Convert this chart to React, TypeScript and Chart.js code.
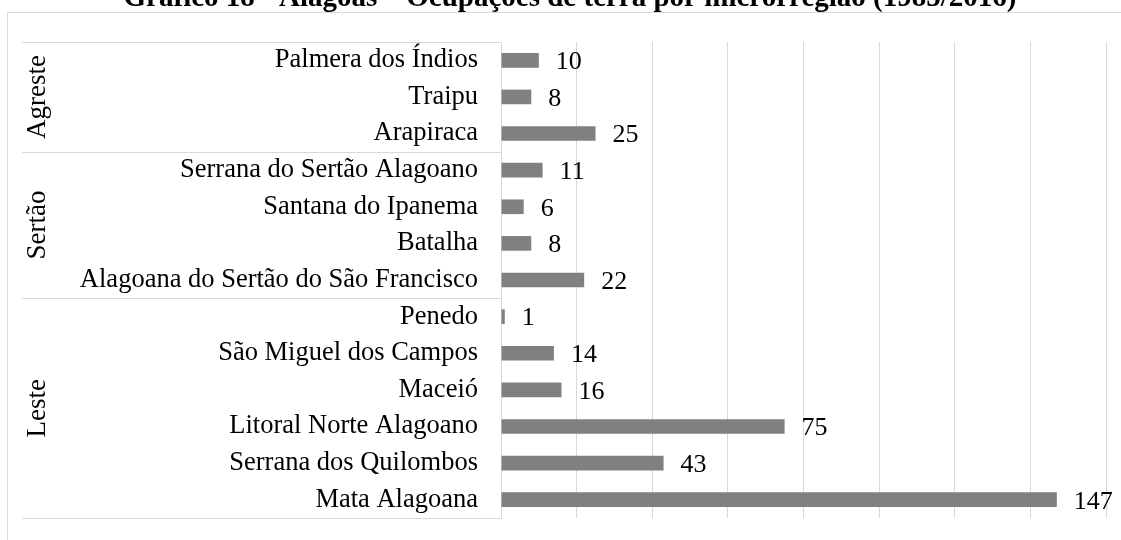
import React, { useEffect, useRef } from "react";
import { Chart, registerables } from "chart.js";

Chart.register(...registerables);

const categories = [
  "Palmera dos Índios",
  "Traipu",
  "Arapiraca",
  "Serrana do Sertão Alagoano",
  "Santana do Ipanema",
  "Batalha",
  "Alagoana do Sertão do São Francisco",
  "Penedo",
  "São Miguel dos Campos",
  "Maceió",
  "Litoral Norte Alagoano",
  "Serrana dos Quilombos",
  "Mata Alagoana",
];
const values = [10, 8, 25, 11, 6, 8, 22, 1, 14, 16, 75, 43, 147];
const groupNames = ["Agreste", "Sertão", "Leste"];
const groupSizes = [3, 4, 6];
const titleText = "Gráfico 18 - Alagoas – Ocupações de terra por microrregião (1985/2016)";

const FONT = "'Liberation Serif', 'Times New Roman', serif";
const LINE = "#d9d9d9";

export default function App() {
  const ref = useRef<HTMLCanvasElement | null>(null);
  useEffect(() => {
    if (!ref.current) return;
    const decor = {
      id: "decor",
      beforeDraw(chart: any) {
        const ctx = chart.ctx;
        ctx.save();
        ctx.strokeStyle = LINE;
        ctx.lineWidth = 1;
        ctx.strokeRect(7.5, 12.5, 2000, 2000);
        ctx.restore();
      },
      afterDraw(chart: any) {
        const ctx = chart.ctx;
        const ys = chart.scales.y;
        const area = chart.chartArea;
        ctx.save();
        // title
        ctx.fillStyle = "#000";
        ctx.font = `bold 29px ${FONT}`;
        ctx.textAlign = "center";
        ctx.textBaseline = "alphabetic";
        ctx.fillText(titleText, 570, 6);
        // group separators
        ctx.strokeStyle = LINE;
        ctx.lineWidth = 1;
        const bounds: number[] = [area.top];
        let idx = 0;
        groupSizes.forEach((s, gi) => {
          idx += s;
          if (gi < groupSizes.length - 1) {
            bounds.push((ys.getPixelForValue(idx - 1) + ys.getPixelForValue(idx)) / 2);
          }
        });
        bounds.push(area.bottom);
        bounds.forEach((b) => {
          const y = Math.round(b) + 0.5;
          ctx.beginPath();
          ctx.moveTo(22, y);
          ctx.lineTo(area.left, y);
          ctx.stroke();
        });
        // group labels
        ctx.fillStyle = "#000";
        ctx.font = `27px ${FONT}`;
        ctx.textAlign = "center";
        ctx.textBaseline = "middle";
        groupNames.forEach((g, i) => {
          const cy = (bounds[i] + bounds[i + 1]) / 2;
          ctx.save();
          ctx.translate(38, cy);
          ctx.rotate(-Math.PI / 2);
          ctx.fillText(g, 0, 0);
          ctx.restore();
        });
        // data labels
        ctx.font = `26px ${FONT}`;
        ctx.textAlign = "left";
        ctx.textBaseline = "middle";
        const meta = chart.getDatasetMeta(0);
        meta.data.forEach((bar: any, i: number) => {
          ctx.fillText(String(values[i]), bar.x + 17, bar.y + 2);
        });
        ctx.restore();
      },
    };
    const chart = new Chart(ref.current, {
      type: "bar",
      data: {
        labels: categories,
        datasets: [
          {
            data: values,
            backgroundColor: "#808080",
            categoryPercentage: 1,
            barPercentage: 0.4,
          },
        ],
      },
      options: {
        indexAxis: "y",
        animation: false,
        responsive: false,
        devicePixelRatio: 1,
        layout: { padding: { top: 42, right: 15, bottom: 22, left: 0 } },
        plugins: { legend: { display: false }, tooltip: { enabled: false }, title: { display: false } },
        scales: {
          x: {
            min: 0,
            max: 160,
            ticks: { display: false, stepSize: 20 },
            grid: { color: LINE, drawTicks: false },
            border: { display: false },
            afterFit(scale: any) {
              scale.height = 0;
              scale.paddingLeft = 0;
              scale.paddingRight = 0;
            },
          },
          y: {
            ticks: { color: "#000", font: { family: FONT, size: 26.5 }, padding: 23, autoSkip: false },
            grid: { display: false, drawTicks: false },
            border: { display: true, color: LINE },
            afterFit(scale: any) {
              scale.width = 501;
              scale.paddingTop = 0;
              scale.paddingBottom = 0;
            },
          },
        },
      },
      plugins: [decor],
    } as any);
    return () => chart.destroy();
  }, []);
  return (
    <div style={{ position: "fixed", left: 0, top: 0, width: 1121, height: 540, background: "#fff" }}>
      <canvas ref={ref} width={1121} height={540} style={{ width: 1121, height: 540 }} />
    </div>
  );
}
